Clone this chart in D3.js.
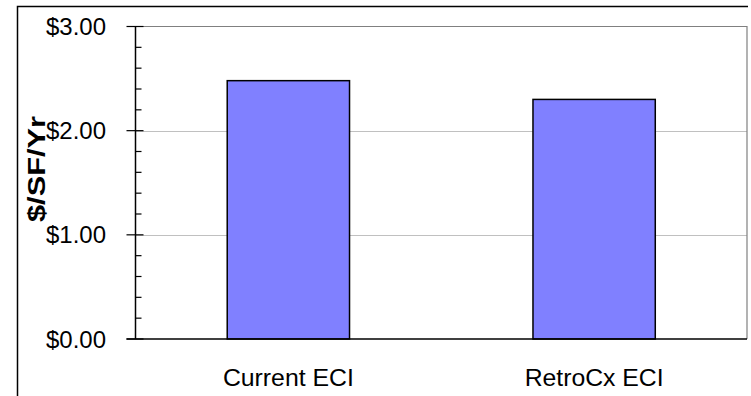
<!DOCTYPE html>
<html>
<head>
<meta charset="utf-8">
<script src="https://cdn.jsdelivr.net/npm/d3@7"></script>
<style>
  html, body { margin: 0; padding: 0; background: #fff; }
  svg { display: block; }
  text { font-family: "Liberation Sans", Arial, sans-serif; fill: #000; }
</style>
</head>
<body>
<svg id="chart" width="751" height="396"></svg>
<script>
// Energy cost index per square foot, before and after retro-commissioning
const categories = ["Current ECI", "RetroCx ECI"];
const values = [2.48, 2.30];
const yTicks = [0, 1, 2, 3];
const yTickLabels = ["$0.00", "$1.00", "$2.00", "$3.00"];
const yTitle = "$/SF/Yr";

const svg = d3.select("#chart");
const plot = { left: 135.5, right: 747, top: 26.5, bottom: 339 };

const x = d3.scaleBand()
  .domain(categories)
  .range([plot.left, plot.right])
  .paddingInner(0.6)
  .paddingOuter(0.3);

const y = d3.scaleLinear()
  .domain([0, 3])
  .range([plot.bottom, plot.top]);

// chart area border (top and left edges visible)
svg.append("path")
  .attr("d", "M17.5,400 V6.5 H748")
  .attr("fill", "none")
  .attr("stroke", "#000")
  .attr("stroke-width", 1.5);

// horizontal gridlines
svg.append("g")
  .selectAll("line")
  .data(yTicks.filter(d => d > 0 && d < 3))
  .join("line")
  .attr("x1", plot.left).attr("x2", plot.right)
  .attr("y1", d => Math.round(y(d)) + 0.5).attr("y2", d => Math.round(y(d)) + 0.5)
  .attr("stroke", "#c0c0c0")
  .attr("stroke-width", 1);

// plot area frame: top and right edges
svg.append("path")
  .attr("d", `M${plot.left},${plot.top} H${plot.right} V${plot.bottom}`)
  .attr("fill", "none")
  .attr("stroke", "#808080")
  .attr("stroke-width", 1.2);

// bars
svg.append("g")
  .selectAll("rect")
  .data(categories.map((c, i) => ({ c, v: values[i] })))
  .join("rect")
  .attr("x", d => x(d.c))
  .attr("width", x.bandwidth())
  .attr("y", d => y(d.v))
  .attr("height", d => y(0) - y(d.v))
  .attr("fill", "#8080ff")
  .attr("stroke", "#000")
  .attr("stroke-width", 1.5);

// y axis with major ticks crossing and minor ticks inside
const yAxis = svg.append("g");
yAxis.append("line")
  .attr("x1", plot.left).attr("x2", plot.left)
  .attr("y1", plot.top).attr("y2", plot.bottom)
  .attr("stroke", "#000").attr("stroke-width", 1.5);

const minor = d3.range(0, 3.0001, 0.2).filter(v => Math.abs(v - Math.round(v)) > 1e-6);
yAxis.selectAll("line.minor")
  .data(minor)
  .join("line")
  .attr("class", "minor")
  .attr("x1", plot.left).attr("x2", plot.left + 6)
  .attr("y1", d => y(d)).attr("y2", d => y(d))
  .attr("stroke", "#000").attr("stroke-width", 1.2);

yAxis.selectAll("line.major")
  .data(yTicks)
  .join("line")
  .attr("class", "major")
  .attr("x1", plot.left - 9).attr("x2", plot.left + 8)
  .attr("y1", d => y(d)).attr("y2", d => y(d))
  .attr("stroke", "#000").attr("stroke-width", 1.2);

yAxis.selectAll("text")
  .data(yTicks)
  .join("text")
  .attr("x", 106)
  .attr("y", d => y(d) + 8.5)
  .attr("text-anchor", "end")
  .attr("font-size", 23)
  .attr("textLength", 60)
  .attr("lengthAdjust", "spacingAndGlyphs")
  .text((d, i) => yTickLabels[i]);

// x axis baseline
svg.append("line")
  .attr("x1", plot.left - 9).attr("x2", plot.right)
  .attr("y1", plot.bottom).attr("y2", plot.bottom)
  .attr("stroke", "#000").attr("stroke-width", 1.5);

// category labels
const catWidths = [131, 139];
svg.append("g")
  .selectAll("text")
  .data(categories)
  .join("text")
  .attr("x", d => x(d) + x.bandwidth() / 2)
  .attr("y", 386)
  .attr("text-anchor", "middle")
  .attr("font-size", 23)
  .attr("textLength", (d, i) => catWidths[i])
  .attr("lengthAdjust", "spacingAndGlyphs")
  .text(d => d);

// y axis title
svg.append("text")
  .attr("transform", "translate(45,169) rotate(-90)")
  .attr("text-anchor", "middle")
  .attr("font-size", 23)
  .attr("font-weight", "bold")
  .attr("textLength", 106)
  .attr("lengthAdjust", "spacingAndGlyphs")
  .text(yTitle);
</script>
</body>
</html>
